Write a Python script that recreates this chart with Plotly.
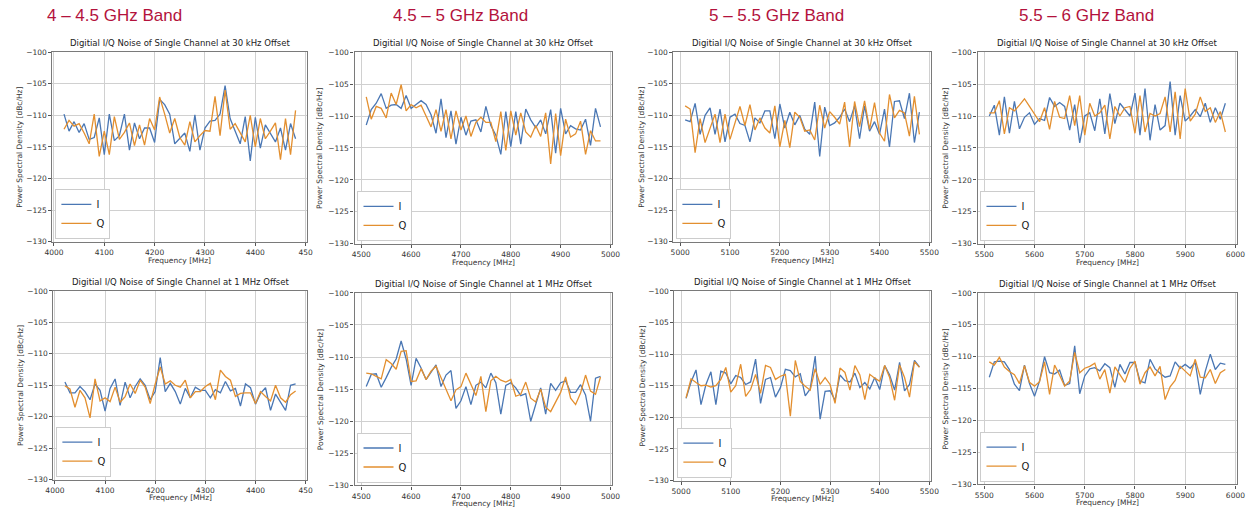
import plotly.graph_objects as go

W, H = 1258, 517

band_titles = ["4 – 4.5 GHz Band", "4.5 – 5 GHz Band", "5 – 5.5 GHz Band", "5.5 – 6 GHz Band"]
band_start = [4020, 4510, 5010, 5510]
step_mhz = 10
x_ticks = [[4000, 4100, 4200, 4300, 4400, 4500],
           [4500, 4600, 4700, 4800, 4900, 5000],
           [5000, 5100, 5200, 5300, 5400, 5500],
           [5500, 5600, 5700, 5800, 5900, 6000]]
x_ticktext = [["4000", "4100", "4200", "4300", "4400", "450"],
              ["4500", "4600", "4700", "4800", "4900", "5000"],
              ["5000", "5100", "5200", "5300", "5400", "5500"],
              ["5500", "5600", "5700", "5800", "5900", "6000"]]
y_ticks = [-130, -125, -120, -115, -110, -105, -100]
row_titles = ["Digitial I/Q Noise of Single Channel at 30 kHz Offset",
              "Digitial I/Q Noise of Single Channel at 1 MHz Offset"]

# ---- 30 kHz offset (top row) ----
i_30k_b1 = [-109.8, -112.5, -111.0, -112.7, -111.3, -113.8, -113.5, -110.4, -116.2, -109.8, -114.0, -113.2,
            -109.8, -115.5, -111.2, -113.7, -112.0, -112.0, -114.3, -107.5, -108.3, -109.8, -114.5, -113.7,
            -112.8, -115.7, -109.9, -115.5, -112.0, -110.9, -110.8, -109.8, -105.3, -110.5, -112.5, -114.5,
            -110.2, -117.2, -110.3, -115.2, -111.5, -112.8, -114.2, -112.0, -115.5, -111.3, -113.7]
q_30k_b1 = [-112.2, -110.8, -111.7, -111.3, -112.8, -114.5, -109.8, -116.5, -112.5, -116.2, -110.2, -113.8,
            -112.7, -111.2, -114.8, -111.5, -114.7, -110.5, -112.3, -107.1, -109.8, -112.8, -110.5, -113.5,
            -114.7, -111.0, -114.2, -113.2, -112.4, -112.5, -107.0, -113.2, -106.0, -112.2, -111.3, -112.8,
            -114.2, -110.0, -115.0, -110.5, -113.7, -112.5, -111.2, -117.0, -110.5, -116.2, -109.2]
i_30k_b2 = [-111.4, -109.0, -108.0, -106.5, -108.8, -108.3, -108.2, -108.8, -106.8, -108.8, -108.2, -107.6,
            -108.2, -109.8, -112.7, -107.3, -113.4, -109.2, -114.4, -110.2, -113.0, -110.8, -110.6, -112.5,
            -108.5, -111.5, -113.0, -116.0, -109.3, -114.8, -109.3, -114.4, -108.9, -110.6, -111.8, -110.6,
            -112.8, -109.0, -115.8, -108.8, -112.8, -111.5, -112.0, -112.2, -110.5, -114.6, -108.8, -111.7]
q_30k_b2 = [-107.0, -110.5, -108.5, -108.8, -110.3, -106.4, -108.2, -105.1, -109.2, -108.2, -108.7, -108.3,
            -110.0, -111.7, -109.0, -112.4, -109.0, -113.6, -109.2, -112.2, -110.0, -113.2, -111.0, -110.2,
            -111.0, -111.0, -114.0, -109.3, -115.4, -109.2, -113.0, -109.5, -112.5, -113.3, -111.5, -113.2,
            -109.5, -117.5, -109.6, -116.2, -110.5, -113.3, -112.8, -110.8, -116.0, -112.3, -113.9, -113.9]
i_30k_b3 = [-110.7, -111.0, -108.1, -113.0, -110.0, -108.8, -113.0, -109.0, -114.2, -110.3, -109.8, -111.3,
            -111.6, -114.2, -110.4, -111.2, -109.3, -109.3, -113.7, -108.2, -112.0, -109.5, -111.5, -110.0,
            -112.2, -113.0, -107.9, -116.5, -108.7, -111.6, -111.2, -110.3, -109.0, -111.0, -108.5, -113.7,
            -108.5, -112.5, -111.0, -113.0, -109.0, -115.0, -107.8, -107.7, -110.5, -106.5, -114.3, -109.5]
q_30k_b3 = [-108.5, -109.0, -115.9, -110.5, -114.3, -112.0, -109.8, -114.3, -109.8, -113.8, -111.2, -108.6,
            -111.6, -108.3, -112.3, -110.4, -112.0, -112.8, -108.5, -115.0, -110.8, -115.1, -109.5, -110.3,
            -112.5, -112.3, -113.9, -108.4, -112.0, -109.4, -110.3, -111.4, -107.9, -115.0, -107.8, -111.8,
            -107.7, -112.2, -108.0, -112.8, -114.1, -106.7, -110.4, -109.2, -109.6, -113.3, -107.0, -113.0]
i_30k_b4 = [-110.0, -108.3, -113.0, -107.0, -112.7, -107.7, -112.0, -110.2, -109.5, -111.3, -110.4, -110.7,
            -107.1, -108.5, -107.9, -108.5, -112.2, -108.2, -114.2, -110.0, -109.5, -112.3, -107.3, -112.8,
            -106.5, -111.2, -108.0, -109.0, -110.0, -106.4, -113.0, -105.7, -113.8, -108.2, -112.2, -111.5,
            -104.6, -113.0, -106.8, -110.8, -110.0, -109.0, -110.1, -108.0, -111.0, -108.7, -110.5, -108.0]
q_30k_b4 = [-109.5, -109.5, -107.6, -112.8, -108.7, -109.2, -108.3, -107.3, -108.5, -109.8, -110.9, -108.7,
            -112.1, -107.7, -110.2, -110.4, -106.8, -111.5, -106.8, -113.0, -108.0, -110.0, -109.5, -108.3,
            -113.6, -108.5, -110.0, -108.7, -108.5, -112.7, -106.8, -112.5, -109.6, -110.0, -109.6, -107.0,
            -112.5, -106.2, -113.6, -105.7, -110.8, -109.7, -107.0, -109.3, -108.7, -111.0, -109.3, -112.5]

# ---- 1 MHz offset (bottom row) ----
i_1m_b1 = [-114.5, -116.2, -116.2, -115.2, -116.0, -117.3, -114.8, -115.8, -119.1, -115.5, -114.0, -118.2,
           -114.5, -117.0, -115.2, -114.0, -115.0, -117.3, -116.0, -110.6, -116.0, -114.7, -116.0, -118.0,
           -115.5, -117.0, -115.3, -115.8, -115.8, -117.0, -115.7, -116.2, -114.4, -115.9, -115.5, -118.3,
           -114.8, -115.4, -118.0, -116.3, -115.4, -119.0, -116.4, -117.6, -119.0, -115.0, -114.8]
q_1m_b1 = [-115.1, -115.6, -118.5, -115.8, -117.0, -120.2, -114.0, -117.5, -117.0, -117.6, -115.3, -117.7,
           -116.8, -114.8, -116.3, -114.2, -115.3, -117.9, -114.8, -112.1, -114.8, -114.3, -115.0, -115.3,
           -114.2, -117.0, -116.0, -116.0, -115.2, -114.7, -117.3, -112.6, -113.6, -114.2, -116.8, -116.3,
           -116.2, -116.2, -117.9, -116.0, -116.8, -117.5, -115.0, -117.0, -117.7, -116.5, -115.9]
i_1m_b2 = [-114.6, -112.7, -112.6, -114.7, -113.2, -111.6, -110.3, -107.5, -110.3, -114.4, -110.2, -111.7,
           -113.5, -112.3, -111.2, -114.6, -112.8, -112.1, -118.0, -116.8, -114.6, -117.4, -114.4, -113.9,
           -114.8, -112.5, -114.0, -118.9, -114.4, -114.0, -114.8, -116.0, -115.7, -120.0, -117.4, -114.8,
           -118.9, -114.1, -115.2, -114.0, -113.7, -115.5, -115.5, -114.3, -115.9, -120.0, -113.3, -113.0]
q_1m_b2 = [-112.5, -112.6, -113.0, -113.4, -110.4, -111.0, -111.9, -109.1, -109.0, -113.8, -113.7, -111.8,
           -113.5, -112.2, -111.4, -113.2, -115.0, -116.8, -115.1, -114.6, -112.5, -114.4, -116.0, -113.0,
           -118.5, -113.7, -113.0, -113.6, -113.9, -113.5, -116.1, -115.8, -113.9, -116.4, -117.0, -115.0,
           -117.8, -118.5, -117.1, -115.5, -113.1, -116.4, -117.4, -115.6, -112.8, -115.3, -115.8, -113.1]
i_1m_b3 = [-117.0, -114.4, -112.5, -118.0, -114.8, -112.8, -118.0, -112.7, -113.0, -114.7, -113.4, -113.7,
           -114.8, -114.4, -110.8, -117.8, -114.0, -113.7, -116.8, -115.3, -112.4, -112.6, -113.6, -113.1,
           -116.6, -115.5, -110.3, -120.3, -115.9, -115.8, -117.3, -113.3, -114.2, -114.4, -113.0, -115.3,
           -114.5, -115.5, -113.7, -115.6, -111.8, -113.3, -115.7, -111.3, -115.8, -114.8, -111.0, -112.0]
q_1m_b3 = [-116.9, -113.9, -114.5, -115.0, -114.9, -115.2, -115.0, -114.0, -112.1, -116.0, -115.0, -111.6,
           -116.7, -115.6, -113.2, -116.2, -111.8, -112.1, -114.0, -113.5, -113.2, -119.8, -111.0, -114.3,
           -115.1, -115.7, -112.3, -114.8, -113.7, -114.8, -117.8, -112.2, -112.9, -115.7, -111.8, -113.3,
           -117.2, -113.2, -113.8, -114.3, -111.8, -113.7, -117.3, -111.7, -113.7, -116.8, -111.2, -112.1]
i_1m_b4 = [-113.2, -110.8, -110.7, -110.8, -112.0, -114.3, -115.3, -111.3, -114.2, -116.2, -113.8, -110.0,
           -112.5, -112.7, -112.1, -114.5, -114.2, -108.3, -115.8, -113.0, -111.9, -111.7, -112.2, -111.1,
           -111.7, -114.8, -111.2, -112.7, -110.9, -110.9, -113.8, -114.1, -110.4, -111.9, -112.6, -113.2,
           -113.0, -110.8, -111.8, -111.2, -111.8, -110.9, -115.9, -112.3, -109.6, -112.0, -111.0, -111.2]
q_1m_b4 = [-110.8, -111.3, -110.1, -111.6, -112.3, -112.8, -114.2, -111.4, -114.0, -114.6, -113.9, -110.8,
           -115.9, -111.3, -112.9, -114.6, -113.8, -109.3, -112.5, -111.8, -111.5, -111.0, -113.5, -112.0,
           -115.7, -111.6, -112.8, -114.0, -111.8, -110.7, -114.3, -112.5, -111.6, -113.0, -111.5, -116.7,
           -114.7, -113.7, -111.5, -112.2, -113.0, -110.4, -113.2, -113.3, -112.0, -114.2, -112.5, -112.0]

series_I = [i_30k_b1, i_30k_b2, i_30k_b3, i_30k_b4, i_1m_b1, i_1m_b2, i_1m_b3, i_1m_b4]
series_Q = [q_30k_b1, q_30k_b2, q_30k_b3, q_30k_b4, q_1m_b1, q_1m_b2, q_1m_b3, q_1m_b4]

# ---- layout (pixel boxes of each plot area: x0, x1, y0(top), y1(bottom)) ----
boxes = [(45, 303, 49, 242), (351, 612, 49, 244), (674, 935, 49, 242), (982, 1245, 49, 244),
         (46, 303, 292, 484), (351, 612, 294, 490), (675, 935, 292, 485), (982, 1245, 294, 489)]
ylab_x = [12, 316, 642, 950, 12, 316, 643, 950]
band_title_x = [108, 458, 778, 1092]

C_I = "#4a77b4"
C_Q = "#e38f2f"
FONT = "DejaVu Sans"

def px(x):
    return x / W

def py(y):
    return 1 - y / H

fig = go.Figure()
annotations = []
layout = dict(width=W, height=H, margin=dict(l=0, r=0, t=0, b=0),
              paper_bgcolor="white", plot_bgcolor="white", showlegend=True)

for k in range(8):
    n = k + 1
    band = k % 4
    x0, x1, y0, y1 = boxes[k]
    yi, yq = series_I[k], series_Q[k]
    freqs = [band_start[band] + step_mhz * j for j in range(len(yi))]
    freqs_q = [band_start[band] + step_mhz * j for j in range(len(yq))]
    lo, hi = min(freqs), max(freqs)
    pad = 0.05 * (hi - lo)
    xa = "x" if n == 1 else f"x{n}"
    ya = "y" if n == 1 else f"y{n}"
    lg = "legend" if n == 1 else f"legend{n}"
    fig.add_trace(go.Scatter(x=freqs, y=yi, mode="lines", name="I", line=dict(color=C_I, width=1.3),
                             xaxis=xa, yaxis=ya, legend=lg))
    fig.add_trace(go.Scatter(x=freqs_q, y=yq, mode="lines", name="Q", line=dict(color=C_Q, width=1.3),
                             xaxis=xa, yaxis=ya, legend=lg))
    axcommon = dict(showline=True, mirror=True, linecolor="#7a7a7a", linewidth=1.3,
                    showgrid=True, gridcolor="#d0d0d0", gridwidth=1, zeroline=False,
                    ticks="outside", ticklen=3, tickcolor="#555", tickfont=dict(family=FONT, size=7.5, color="#333"))
    layout["xaxis" if n == 1 else f"xaxis{n}"] = dict(
        domain=[px(x0), px(x1)], anchor=ya, range=[lo - pad, hi + pad],
        tickvals=x_ticks[band], ticktext=x_ticktext[band], **axcommon)
    layout["yaxis" if n == 1 else f"yaxis{n}"] = dict(
        domain=[py(y1), py(y0)], anchor=xa, range=[-130, -100], tickvals=y_ticks, **axcommon)
    layout[lg] = dict(x=px(x0 + 3), y=py(y1 - 3), xanchor="left", yanchor="bottom",
                      bgcolor="white", bordercolor="#cccccc", borderwidth=1,
                      font=dict(family=FONT, size=10, color="#222"), itemwidth=30,
                      tracegroupgap=0)
    # subplot title
    annotations.append(dict(x=px((x0 + x1) / 2), y=py(y0 - 2), xref="paper", yref="paper",
                            text=row_titles[k // 4], showarrow=False, xanchor="center", yanchor="bottom",
                            font=dict(family=FONT, size=8.5, color="#222")))
    # axis titles
    annotations.append(dict(x=px((x0 + x1) / 2), y=py(y1 + 12), xref="paper", yref="paper",
                            text="Frequency [MHz]", showarrow=False, xanchor="center", yanchor="top",
                            font=dict(family=FONT, size=7.5, color="#333")))
    annotations.append(dict(x=px(ylab_x[k]), y=py((y0 + y1) / 2), xref="paper", yref="paper",
                            text="Power Spectral Density [dBc/Hz]", showarrow=False, textangle=-90,
                            xanchor="center", yanchor="middle",
                            font=dict(family=FONT, size=7.5, color="#333")))

for b in range(4):
    annotations.append(dict(x=px(band_title_x[b]), y=py(12), xref="paper", yref="paper",
                            text=band_titles[b], showarrow=False, xanchor="center", yanchor="middle",
                            font=dict(family="Liberation Sans", size=17, color="#b3123c")))

layout["annotations"] = annotations
fig.update_layout(**layout)
fig.write_html("out.html", config={"displayModeBar": False},
               post_script="document.body.style.margin='0';document.body.style.overflow='hidden';")
